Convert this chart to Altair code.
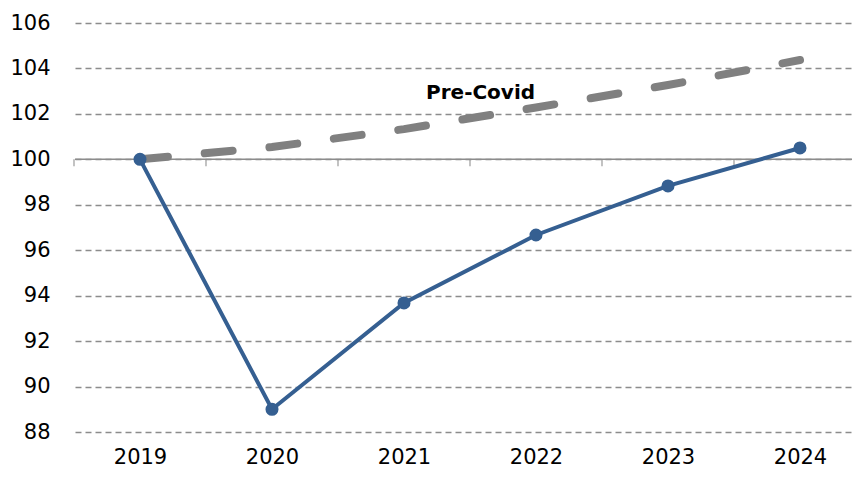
import altair as alt
import pandas as pd

# ---- data ----
years = [2019, 2020, 2021, 2022, 2023, 2024]
actual = [100.0, 89.0, 93.68, 96.67, 98.83, 100.5]
pre_covid = [100.0, 100.54, 101.33, 102.28, 103.27, 104.37]
y_ticks = [88, 90, 92, 94, 96, 98, 100, 102, 104, 106]
x_ticks_between = [2018.5, 2019.5, 2020.5, 2021.5, 2022.5, 2023.5]
base_value = [100]
label_text = ["Pre-Covid"]
label_year = [2021.58]
label_value = [102.92]

FONT = "DejaVu Sans"
GRID = "#8c8c8c"
BLUE = "#355f91"
GREY = "#808080"

df = pd.DataFrame({"year": years, "actual": actual, "pre": pre_covid})
ticks_df = pd.DataFrame({"year": x_ticks_between, "v": [base_value[0]] * len(x_ticks_between)})
rule_df = pd.DataFrame({"v": base_value})
label_df = pd.DataFrame({"year": label_year, "v": label_value, "t": label_text})

x_scale = alt.Scale(domain=[2018.5076, 2024.394], nice=False, zero=False)
y_scale = alt.Scale(domain=[88, 106], nice=False, zero=False)

x_axis = alt.Axis(values=years, format="d", grid=False, ticks=False, tickSize=0,
                  domain=False, labelFont=FONT, labelFontSize=21, labelColor="#000000",
                  labelBaseline="alphabetic", labelPadding=31, title=None)
y_axis = alt.Axis(values=y_ticks, grid=True, gridDash=[6, 4], gridColor=GRID, gridWidth=1.5,
                  domain=False, ticks=False, tickSize=0, labelFont=FONT, labelFontSize=21,
                  labelColor="#000000", labelPadding=25, title=None)


def X(field="year"):
    return alt.X(f"{field}:Q", scale=x_scale, axis=x_axis)


def Y(field):
    return alt.Y(f"{field}:Q", scale=y_scale, axis=y_axis)


base_rule = alt.Chart(rule_df).mark_rule(color=GRID, strokeWidth=1.5).encode(y=Y("v"))

between_ticks = alt.Chart(ticks_df).mark_tick(
    orient="vertical", size=7, thickness=1.5, yOffset=3.5, color=GRID
).encode(x=X(), y=Y("v"))

pre_line = alt.Chart(df).mark_line(
    color=GREY, strokeWidth=8, strokeDash=[28, 37], strokeCap="round"
).encode(x=X(), y=Y("pre"))

act_line = alt.Chart(df).mark_line(color=BLUE, strokeWidth=4).encode(x=X(), y=Y("actual"))
act_pts = alt.Chart(df).mark_circle(color=BLUE, size=170, opacity=1).encode(x=X(), y=Y("actual"))

label = alt.Chart(label_df).mark_text(
    font=FONT, fontSize=20, fontWeight="bold", color="#000000", align="center", baseline="middle"
).encode(x=X(), y=Y("v"), text="t:N")

chart = alt.layer(
    base_rule, between_ticks, pre_line, act_line, act_pts, label
).properties(
    width=777, height=409,
    padding={"left": 67, "top": 15, "right": 0, "bottom": 37},
    autosize=alt.AutoSizeParams(type="none"),
).configure_view(stroke=None)

chart.save("out.html", embed_options={"renderer": "svg", "actions": False})
